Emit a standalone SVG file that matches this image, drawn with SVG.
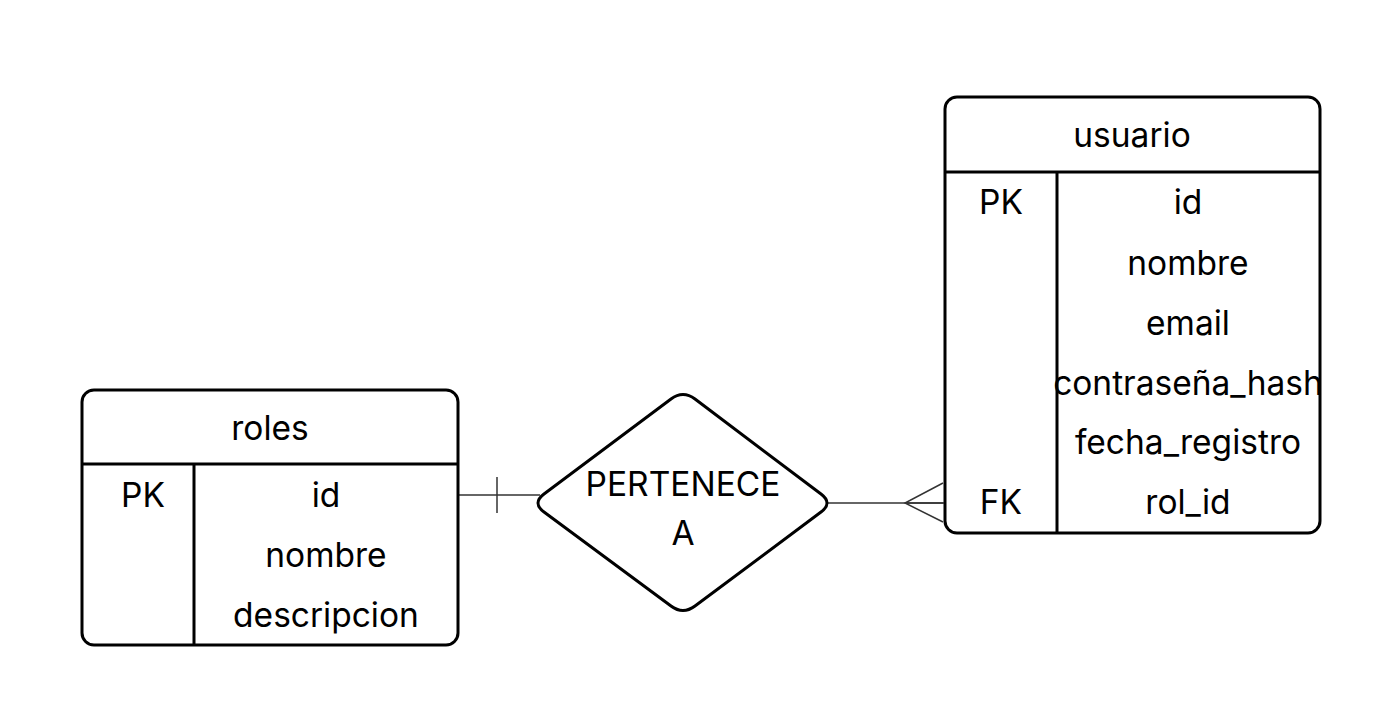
<svg xmlns="http://www.w3.org/2000/svg" width="1386" height="728" viewBox="0 0 1386 728">
<style>
.box{fill:#fff;stroke:#000;stroke-width:3}
.ln{stroke:#000;stroke-width:3;fill:none}
.t{font-family:Inter,"Liberation Sans",sans-serif;font-size:33.5px;fill:#000;text-anchor:middle}
.c{stroke:#333;stroke-width:1.5;fill:none}
</style>
<rect width="1386" height="728" fill="#fff"/>
<g id="connectors">
<path class="c" d="M458,495 H540"/>
<path class="c" d="M497,477 V513"/>
<path class="c" d="M827,503 H944"/>
<path class="c" d="M943,483 L905,503 L943,522 M905,503 H943"/>
</g>
<g id="roles">
<rect class="box" x="82" y="390" width="376" height="255" rx="12"/>
<path class="ln" d="M82,464 H458 M194,464 V645"/>
<text class="t" x="270" y="440">roles</text>
<text class="t" x="143" y="507">PK</text>
<text class="t" x="326" y="507">id</text>
<text class="t" x="326" y="567">nombre</text>
<text class="t" x="326" y="627">descripcion</text>
</g>
<g id="usuario">
<rect class="box" x="945" y="97" width="375" height="436" rx="12"/>
<path class="ln" d="M945,172 H1320 M1057,172 V533"/>
<text class="t" x="1132" y="147">usuario</text>
<text class="t" x="1001" y="214">PK</text>
<text class="t" x="1188" y="214">id</text>
<text class="t" x="1188" y="275">nombre</text>
<text class="t" x="1188" y="335">email</text>
<text class="t" x="1188" y="395">contraseña_hash</text>
<text class="t" x="1188" y="454">fecha_registro</text>
<text class="t" x="1001" y="514">FK</text>
<text class="t" x="1188" y="514">rol_id</text>
</g>
<g id="pertenece">
<path class="box" stroke-linejoin="round" d="M671,399 Q683,390 695,399 L821,494 Q833,503 821,512 L695,606 Q683,615 671,606 L544,512 Q532,503 544,494 Z"/>
<text class="t" x="683" y="496">PERTENECE</text>
<text class="t" x="683" y="545">A</text>
</g>
</svg>
